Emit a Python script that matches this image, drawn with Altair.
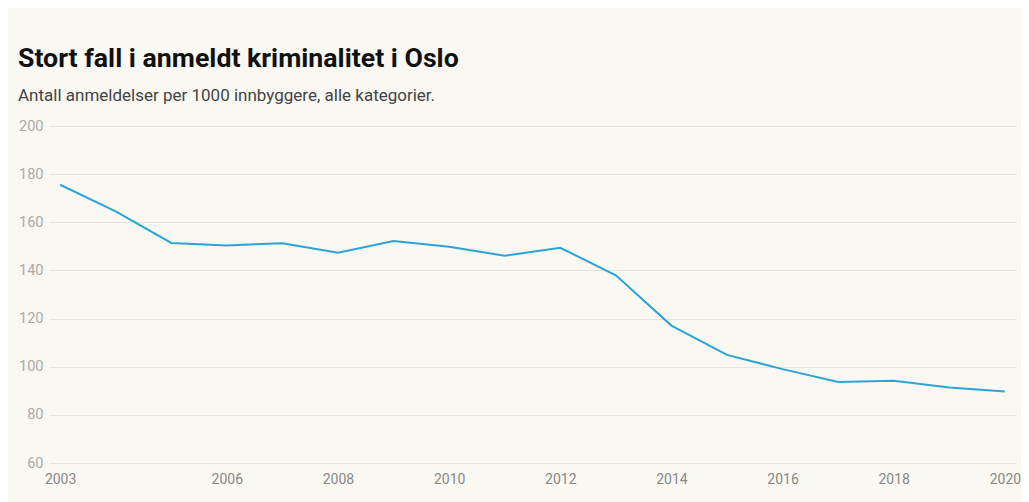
import altair as alt
import pandas as pd

years = list(range(2003, 2021))
values = [175.6, 164.5, 151.4, 150.4, 151.3, 147.4, 152.2, 149.8, 146.1, 149.4,
          138.0, 117.1, 104.9, 99.0, 93.7, 94.2, 91.4, 89.7]
x_ticks = [2003, 2006, 2008, 2010, 2012, 2014, 2016, 2018, 2020]
y_ticks = [60, 80, 100, 120, 140, 160, 180, 200]

df = pd.DataFrame({"year": years, "value": values})

FONT = "Roboto"

chart = (
    alt.Chart(df)
    .mark_line(color="#2ca5d6", strokeWidth=2)
    .encode(
        x=alt.X(
            "year:Q",
            scale=alt.Scale(domain=[2002.8, 2020.2], nice=False, zero=False),
            axis=alt.Axis(
                values=x_ticks, format="d", title=None, grid=False, domain=False,
                ticks=False, labelPadding=9, labelColor="#888888", labelFontSize=14,
                labelFont=FONT, labelFlush=False,
            ),
        ),
        y=alt.Y(
            "value:Q",
            scale=alt.Scale(domain=[60, 200], nice=False, zero=False),
            axis=alt.Axis(
                values=y_ticks, title=None, domain=False, ticks=False, labelPadding=6,
                labelColor="#aaaaaa", labelFontSize=14.5, labelFont=FONT,
                gridColor="#e6e4df", gridWidth=1,
            ),
        ),
    )
    .properties(
        width=967,
        height=337,
        background="#faf8f2",
        padding={"left": 41, "top": 118, "right": 5, "bottom": 39},
        autosize=alt.AutoSizeParams(type="none"),
        title=alt.Title(
            "Stort fall i anmeldt kriminalitet i Oslo",
            subtitle="Antall anmeldelser per 1000 innbyggere, alle kategorier.",
            anchor="start",
            frame="group",
            dx=-31,
            offset=14,
            font=FONT,
            fontSize=26.7,
            fontWeight="bold",
            color="#111111",
            subtitleFont=FONT,
            subtitleFontSize=17,
            subtitleColor="#444444",
            subtitlePadding=15,
        ),
    )
    .configure_view(stroke=None)
)

chart.save("out.html", embed_options={"renderer": "svg", "actions": False})
